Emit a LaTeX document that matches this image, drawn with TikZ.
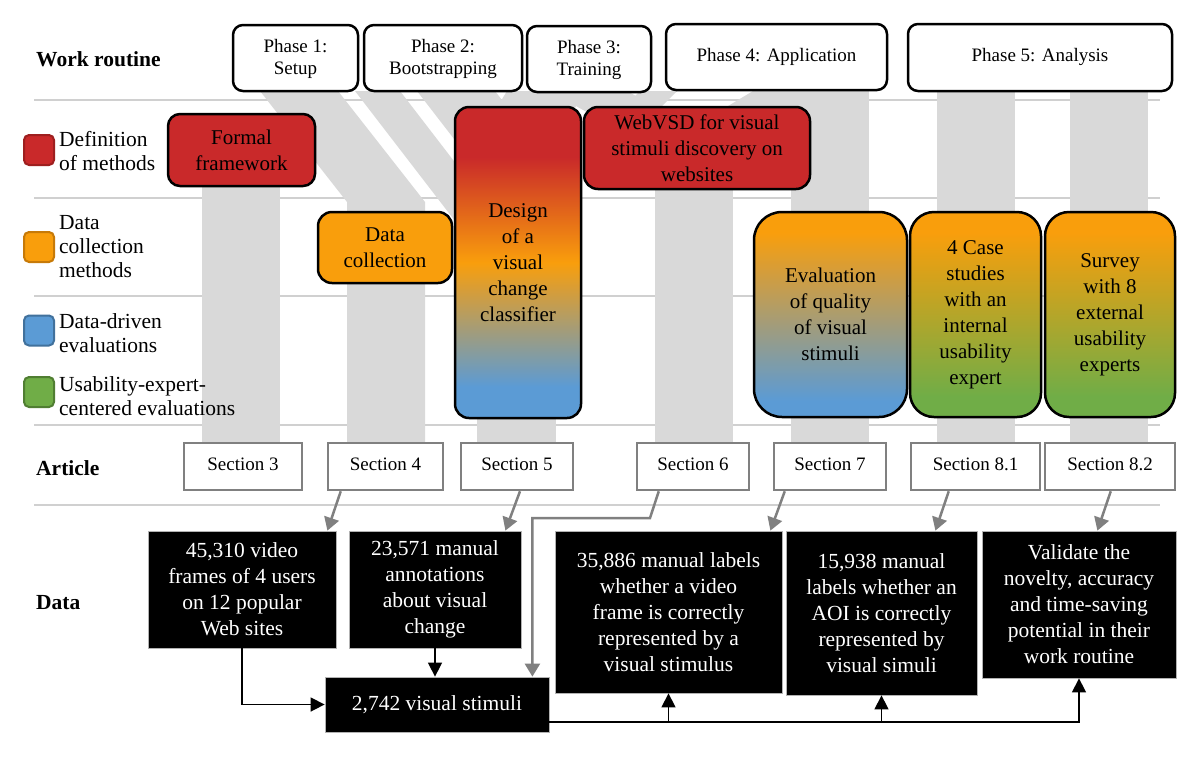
\documentclass[tikz,border=0pt]{standalone}
\usepackage{fontspec}
\setmainfont{Liberation Serif}
\usetikzlibrary{arrows.meta,calc}
\definecolor{cred}{HTML}{C9292A}
\definecolor{corange}{HTML}{F99E0C}
\definecolor{cblue}{HTML}{5B9BD5}
\definecolor{cgreen}{HTML}{70AD47}
\definecolor{credb}{HTML}{9E1F1F}
\definecolor{corangeb}{HTML}{C77A08}
\definecolor{cblueb}{HTML}{41719C}
\definecolor{cgreenb}{HTML}{507E32}
\definecolor{bandgray}{HTML}{D9D9D9}
\definecolor{linegray}{HTML}{D0D0D0}
\definecolor{secgray}{HTML}{808080}
\pgfdeclareverticalshading{dsgshade}{100bp}{color(0bp)=(cblue); color(30bp)=(cblue); color(50bp)=(corange); color(67bp)=(cred); color(100bp)=(cred)}
\pgfdeclareverticalshading{evshade}{100bp}{color(0bp)=(cblue); color(29bp)=(cblue); color(70bp)=(corange); color(100bp)=(corange)}
\pgfdeclareverticalshading{grshade}{100bp}{color(0bp)=(cgreen); color(30bp)=(cgreen); color(70bp)=(corange); color(100bp)=(corange)}
\newcommand{\myfs}[2]{\fontsize{#1}{#2}\selectfont}
\tikzset{
  phasebox/.style={draw=black, line width=2.5pt, fill=white, rounded corners=10pt, align=center, inner sep=0pt, font=\myfs{19}{22}},
  methbox/.style={draw=black, line width=2.5pt, align=center, inner sep=0pt, font=\myfs{21}{26}},
  secbox/.style={draw=secgray, line width=2.5pt, fill=white, inner sep=0pt, font=\myfs{19}{22}, minimum height=47pt},
  databox/.style={draw=gray!60, line width=0.8pt, fill=black, text=white, align=center, inner sep=0pt, font=\myfs{21.5}{26}},
  legsq/.style={line width=2pt, rounded corners=5pt, minimum width=30pt, minimum height=30pt, inner sep=0pt},
  legtxt/.style={anchor=west, align=left, inner sep=0pt, font=\myfs{21.5}{24}},
  rowlab/.style={anchor=west, inner sep=0pt, font=\myfs{21.5}{24}\bfseries},
  bandfill/.style={fill=bandgray, draw=none},
  sepline/.style={draw=linegray, line width=1.2pt},
  garrow/.style={draw=secgray, line width=2.5pt, -{Triangle[length=13pt,width=15pt]}},
  barrow/.style={draw=black, line width=1.5pt, -{Triangle[length=14pt,width=14pt]}}
}
\begin{document}
\begin{tikzpicture}[x=1pt,y=-1pt]
\useasboundingbox (0,0) rectangle (1201,761);
\fill[white] (0,0) rectangle (1201,761);

% separator lines
\foreach \yy in {100,198,296,425,505} { \draw[sepline] (34,\yy) -- (1160,\yy); }

% gray bands
\fill[bandfill] (260,91) -- (338,91) -- (425,202) -- (425,443) -- (347,443) -- (347,202) -- cycle;
\fill[bandfill] (202,150) rectangle (280,443);
\fill[bandfill] (355,91) -- (400,91) -- (520,247) -- (475,247) -- cycle;
\fill[bandfill] (417,91) -- (495,91) -- (556,170) -- (478,170) -- cycle;
\fill[bandfill] (477,160) rectangle (556,443);
\fill[bandfill] (507,91) -- (585,91) -- (556,140) -- (477,140) -- cycle;
\fill[bandfill] (549,91) -- (627,91) -- (733,150) -- (655,150) -- cycle;
\fill[bandfill] (640,91) -- (677,91) -- (660,108) -- (623,108) -- cycle;
\fill[bandfill] (753,91) -- (831,91) -- (733,150) -- (655,150) -- cycle;
\fill[bandfill] (655,140) rectangle (733,443);
\fill[bandfill] (791,90) rectangle (869,443);
\fill[bandfill] (937,91) rectangle (1015,443);
\fill[bandfill] (1070,91) rectangle (1148,443);

% row labels
\node[rowlab] (lwork) at (36,59) {Work routine};
\node[rowlab] (lart) at (36,468) {Article};
\node[rowlab] (ldata) at (36,603) {Data};

% legend
\node[legsq, fill=cred, draw=credb] (sq1) at (39,150) {};
\node[legsq, fill=corange, draw=corangeb] (sq2) at (39,247) {};
\node[legsq, fill=cblue, draw=cblueb] (sq3) at (39,330.5) {};
\node[legsq, fill=cgreen, draw=cgreenb] (sq4) at (39,392) {};
\node[legtxt] (lt1) at (59,151) {Definition\\of methods};
\node[legtxt] (lt2) at (59,247) {Data\\collection\\methods};
\node[legtxt] (lt3) at (59,333) {Data-driven\\evaluations};
\node[legtxt] (lt4) at (59,396) {Usability-expert-\\centered evaluations};

% phases
\node[phasebox, minimum width=125pt, minimum height=66pt] (P1) at (295.5,58) {\strut Phase 1:\\Setup};
\node[phasebox, minimum width=158pt, minimum height=66pt] (P2) at (443,58) {\strut Phase 2:\\Bootstrapping};
\node[phasebox, minimum width=124pt, minimum height=66pt] (P3) at (589,59) {\strut Phase 3:\\Training};
\node[phasebox, minimum width=221pt, minimum height=66pt] (P4) at (776.5,57) {\strut Phase 4: Application};
\node[phasebox, minimum width=264pt, minimum height=67pt] (P5) at (1040,57.5) {\strut Phase 5: Analysis};

% methods
\node[methbox, fill=cred, rounded corners=12pt, minimum width=147pt, minimum height=72pt] (FF) at (241.5,150) {Formal\\framework};
\node[methbox, fill=corange, rounded corners=14pt, minimum width=134pt, minimum height=71pt] (DC) at (385,247.5) {Data\\collection};
\node[methbox, shade, shading=dsgshade, rounded corners=14pt, minimum width=126pt, minimum height=311pt] (DS) at (518,262.5) {Design\\of a\\visual\\change\\classifier};
\node[methbox, fill=cred, rounded corners=14pt, minimum width=226pt, minimum height=82pt] (WV) at (697,148) {WebVSD for visual\\stimuli discovery on\\websites};
\node[methbox, shade, shading=evshade, rounded corners=28pt, minimum width=153pt, minimum height=205pt] (EV) at (830.5,314.5) {Evaluation\\of quality\\of visual\\stimuli};
\node[methbox, shade, shading=grshade, rounded corners=24pt, minimum width=131pt, minimum height=205pt] (CS) at (975.5,314.5) {4 Case\\studies\\with an\\internal\\usability\\expert};
\node[methbox, shade, shading=grshade, rounded corners=24pt, minimum width=130pt, minimum height=205pt] (SV) at (1110,314.5) {Survey\\with 8\\external\\usability\\experts};

% sections
\node[secbox, minimum width=118pt] (S3) at (243,466.5) {\strut Section 3};
\node[secbox, minimum width=115pt] (S4) at (385.5,466.5) {\strut Section 4};
\node[secbox, minimum width=112pt] (S5) at (517,466.5) {\strut Section 5};
\node[secbox, minimum width=112pt] (S6) at (693,466.5) {\strut Section 6};
\node[secbox, minimum width=112pt] (S7) at (830,466.5) {\strut Section 7};
\node[secbox, minimum width=129pt] (S81) at (975.5,466.5) {\strut Section 8.1};
\node[secbox, minimum width=130pt] (S82) at (1110,466.5) {\strut Section 8.2};

% data
\node[databox, minimum width=188pt, minimum height=117pt] (D1) at (242,589.5) {45,310 video\\frames of 4 users\\on 12 popular\\Web sites};
\node[databox, minimum width=172pt, minimum height=117pt] (D2) at (435,589.5) {23,571 manual\\annotations\\about visual\\change};
\node[databox, minimum width=224pt, minimum height=55pt] (D3) at (437,704.5) {2,742 visual stimuli};
\node[databox, minimum width=227pt, minimum height=162pt] (D4) at (668.5,612) {35,886 manual labels\\whether a video\\frame is correctly\\represented by a\\visual stimulus};
\node[databox, minimum width=191pt, minimum height=164pt] (D5) at (881.5,613) {15,938 manual\\labels whether an\\AOI is correctly\\represented by\\visual simuli};
\node[databox, minimum width=194pt, minimum height=147pt] (D6) at (1079,604.5) {Validate the\\novelty, accuracy\\and time-saving\\potential in their\\work routine};

% gray arrows section -> data
\draw[garrow] ([xshift=14pt]S4.south west) -- ([xshift=-9pt]D1.north east);
\draw[garrow] ([xshift=3pt]S5.south) -- ([xshift=-16pt]D2.north east);
\coordinate (s6k) at (650,518);
\coordinate (d3in) at ([xshift=-17pt]D3.north east);
\draw[garrow] ([xshift=23pt]S6.south west) -- (s6k) -- (s6k -| d3in) -- (d3in);
\draw[garrow] ([xshift=12pt]S7.south west) -- ([xshift=-12pt]D4.north east);
\draw[garrow] ([xshift=39pt]S81.south west) -- ([xshift=-42pt]D5.north east);
\draw[garrow] ([xshift=67pt]S82.south west) -- ([xshift=-79pt]D6.north east);

% black arrows
\draw[barrow] (D1.south) |- (D3.west);
\draw[barrow] (D2.south) -- (D2.south |- D3.north);
\coordinate (bus) at ([yshift=-17.5pt]D3.east);
\draw[barrow] (bus) -| (D6.south);
\draw[barrow] (bus -| D4.south) -- (D4.south);
\draw[barrow] (bus -| D5.south) -- (D5.south);
\end{tikzpicture}
\end{document}
